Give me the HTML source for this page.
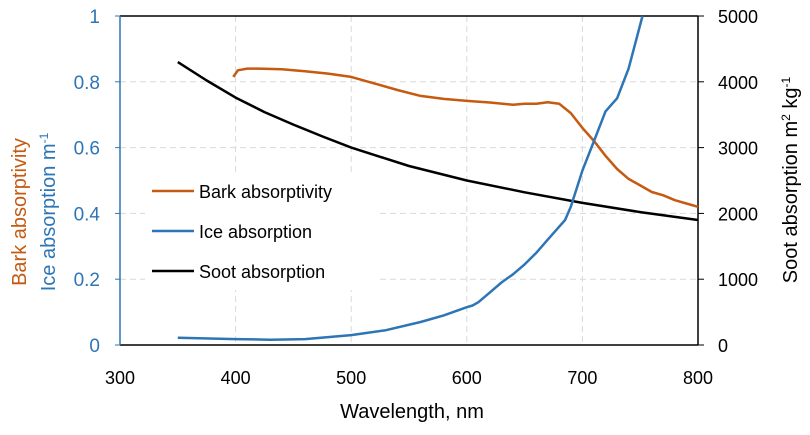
<!DOCTYPE html>
<html><head><meta charset="utf-8"><style>
body{margin:0;background:#fff}
text{font-family:"Liberation Sans",sans-serif}
</style></head><body>
<svg id="c" width="810" height="430"></svg>
<script>
const barkX=[398,402,410,420,440,460,480,500,520,540,560,580,600,620,640,650,660,670,680,690,700,710,720,730,740,750,760,770,780,790,800];
const barkY=[0.815,0.835,0.84,0.84,0.838,0.832,0.825,0.815,0.795,0.775,0.757,0.748,0.742,0.737,0.73,0.733,0.733,0.738,0.733,0.705,0.66,0.62,0.575,0.535,0.505,0.485,0.465,0.455,0.44,0.43,0.42];
const iceX=[350,400,430,460,500,530,560,580,600,605,610,620,630,640,650,660,670,680,685,690,700,710,720,725,730,740,752];
const iceY=[0.022,0.018,0.016,0.018,0.03,0.045,0.07,0.09,0.115,0.12,0.13,0.16,0.19,0.215,0.245,0.28,0.32,0.36,0.38,0.42,0.53,0.62,0.71,0.73,0.75,0.84,1.0];
const sootX=[350,375,400,425,450,475,500,550,600,650,700,750,800];
const sootY=[4300,4020,3760,3540,3350,3170,3000,2720,2500,2320,2160,2020,1900];
const xTicks=[300,400,500,600,700,800];
const yLTicks=[0,0.2,0.4,0.6,0.8,1];
const yLLabels=["0","0.2","0.4","0.6","0.8","1"];
const yRTicks=[0,1000,2000,3000,4000,5000];
const L=120,R=698,T=16,B=345;
const sx=v=>L+(v-300)/500*(R-L);
const sy=v=>B-v*(B-T);
const sr=v=>B-v/5000*(B-T);
const svg=document.getElementById('c');
const NS='http://www.w3.org/2000/svg';
function mk(t,a,p){const e=document.createElementNS(NS,t);for(const k in a)e.setAttribute(k,a[k]);(p||svg).appendChild(e);return e;}
xTicks.slice(1,5).forEach(v=>{const e=mk('line',{x1:sx(v),x2:sx(v),y1:T,y2:B,stroke:'#d9d9d9','stroke-dasharray':'6,4'});

});
yLTicks.slice(1,5).forEach(v=>{const e=mk('line',{x1:L,x2:R,y1:sy(v),y2:sy(v),stroke:'#d9d9d9','stroke-dasharray':'6,4'});

});
mk('line',{x1:L,x2:R,y1:T,y2:T,stroke:'#000','stroke-width':1.5});
mk('line',{x1:L,x2:R,y1:B,y2:B,stroke:'#000','stroke-width':1.5});
mk('line',{x1:L,x2:L,y1:T,y2:B,stroke:'#2E75B6','stroke-width':1.5});
mk('line',{x1:R,x2:R,y1:T,y2:B,stroke:'#000','stroke-width':1.5});
xTicks.forEach(v=>{const t=mk('text',{x:sx(v),y:384,'text-anchor':'middle','font-size':18});t.textContent=v;

});
yLTicks.forEach((v,i)=>{const t=mk('text',{x:100,y:sy(v)+7,'text-anchor':'end','font-size':19,fill:'#2E75B6'});t.textContent=yLLabels[i];

});
yRTicks.forEach(v=>{mk('line',{x1:R,x2:R+6,y1:sr(v),y2:sr(v),stroke:'#000'});const t=mk('text',{x:718,y:sr(v)+7,'font-size':18});t.textContent=v;

});
yLTicks.forEach(v=>mk('line',{x1:L-5,x2:L,y1:sy(v),y2:sy(v),stroke:'#2E75B6'}));
function path(xs,ys,f,col,name){const d=xs.map((x,i)=>(i?'L':'M')+sx(x).toFixed(1)+','+f(ys[i]).toFixed(1)).join('');
const p=mk('path',{d:d,fill:'none',stroke:col,'stroke-width':2.5,'stroke-linejoin':'round'});

}
path(sootX,sootY,sr,'#000','soot-line');
path(barkX,barkY,sy,'#C55A11','bark-line');
path(iceX,iceY,sy,'#2E75B6','ice-line');
const lg=[['Bark absorptivity','#C55A11'],['Ice absorption','#2E75B6'],['Soot absorption','#000']];
mk('rect',{x:145,y:172,width:235,height:118,fill:'#fff'});
lg.forEach((l,i)=>{const y=191+i*40;mk('line',{x1:152,x2:194,y1:y,y2:y,stroke:l[1],'stroke-width':2.5});
const t=mk('text',{x:199,y:y+7,'font-size':18});t.textContent=l[0];

});
</script>
<svg width="810" height="430" style="position:absolute;left:0;top:0">
<text x="412" y="418" text-anchor="middle" font-size="20" font-family="Liberation Sans">Wavelength, nm</text>
<text transform="translate(26,212) rotate(-90)" text-anchor="middle" font-size="20" fill="#C55A11" font-family="Liberation Sans">Bark absorptivity</text>
<text transform="translate(55,212) rotate(-90)" text-anchor="middle" font-size="20" fill="#2E75B6" font-family="Liberation Sans">Ice absorption  m<tspan dy="-7" font-size="12">-1</tspan></text>
<text transform="translate(797,180) rotate(-90)" text-anchor="middle" font-size="20" font-family="Liberation Sans">Soot absorption m<tspan dy="-7" font-size="12">2</tspan><tspan dy="7"> kg</tspan><tspan dy="-7" font-size="12">-1</tspan></text>
</svg>
</body></html>
